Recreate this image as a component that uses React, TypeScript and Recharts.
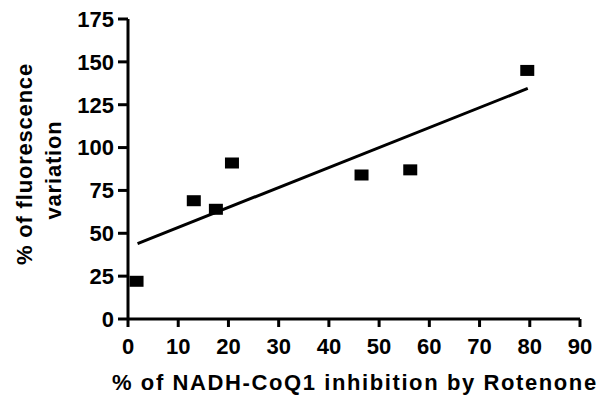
import React from 'react';
import { ComposedChart, Scatter, XAxis, YAxis, Label } from 'recharts';

const inhibition = [1.7, 13.1, 17.5, 20.7, 46.5, 56.2, 79.5];
const fluorescence = [22, 69, 64, 91, 84, 87, 145];
const fitX = [1.9, 79.6];
const fitY = [44, 134.5];
const xTicks = [0, 10, 20, 30, 40, 50, 60, 70, 80, 90];
const yTicks = [0, 25, 50, 75, 100, 125, 150, 175];

const points = inhibition.map((x, i) => ({ x, y: fluorescence[i] }));
const fitLine = fitX.map((x, i) => ({ x, y: fitY[i] }));

const FONT = '"Liberation Sans", Arial, sans-serif';

const Square = (props: any) => {
    const { cx, cy } = props;
    if (cx == null || cy == null) return null;
    return <rect x={cx - 7} y={cy - 5.5} width={14} height={11} fill="#000" />;
};

const NoShape = () => null;

const YTitle = () => (
    <text transform="rotate(-90)" textAnchor="middle" fontFamily={FONT} fontWeight="bold" fontSize={22} letterSpacing={0.8} fill="#000">
        <tspan x={-164} y={32}>% of fluorescence</tspan>
        <tspan x={-170} y={61}>variation</tspan>
    </text>
);

const XTitle = () => (
    <text x={112} y={390} fontFamily={FONT} fontWeight="bold" fontSize={22} letterSpacing={1.6} fill="#000">
        % of NADH-CoQ1 inhibition by Rotenone
    </text>
);

const tickStyle = { fill: '#000', fontSize: 22, fontWeight: 'bold', fontFamily: FONT };

export default function App() {
    return (
        <div style={{ position: 'absolute', left: 0, top: 0, background: '#fff' }}>
            <ComposedChart width={602} height={403} margin={{ top: 19, right: 22, bottom: 0, left: 0 }}>
                <XAxis
                    type="number"
                    dataKey="x"
                    domain={[0, 90]}
                    ticks={xTicks}
                    interval={0}
                    height={84}
                    axisLine={{ stroke: '#000', strokeWidth: 3 }}
                    tickLine={{ stroke: '#000', strokeWidth: 3 }}
                    tickSize={8}
                    tickMargin={11}
                    tick={tickStyle}
                >
                    <Label content={<XTitle />} />
                </XAxis>
                <YAxis
                    type="number"
                    dataKey="y"
                    domain={[0, 175]}
                    ticks={yTicks}
                    interval={0}
                    width={128}
                    axisLine={{ stroke: '#000', strokeWidth: 3 }}
                    tickLine={{ stroke: '#000', strokeWidth: 3 }}
                    tickSize={10}
                    tickMargin={4}
                    tick={tickStyle}
                >
                    <Label content={<YTitle />} />
                </YAxis>
                <Scatter
                    data={fitLine}
                    line={{ stroke: '#000', strokeWidth: 3 }}
                    shape={NoShape}
                    isAnimationActive={false}
                />
                <Scatter data={points} shape={Square} isAnimationActive={false} />
            </ComposedChart>
        </div>
    );
}
